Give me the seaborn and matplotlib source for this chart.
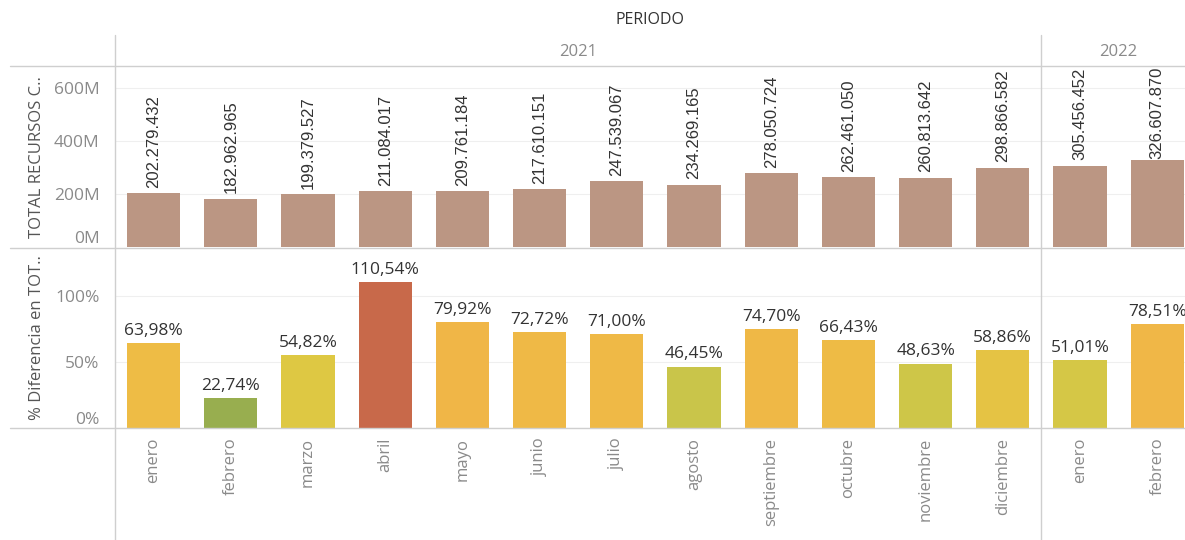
import pandas as pd
import matplotlib.pyplot as plt
import matplotlib.transforms as mtransforms
from matplotlib.colors import LinearSegmentedColormap
from matplotlib.lines import Line2D
import seaborn as sns

# ==============================
# Datos
# ==============================
anios = ["2021"] * 12 + ["2022"] * 2
meses = ["enero", "febrero", "marzo", "abril", "mayo", "junio", "julio",
         "agosto", "septiembre", "octubre", "noviembre", "diciembre",
         "enero", "febrero"]
total_recursos = [202279432, 182962965, 199379527, 211084017, 209761184,
                  217610151, 247539067, 234269165, 278050724, 262461050,
                  260813642, 298866582, 305456452, 326607870]
pct_diferencia = [63.98, 22.74, 54.82, 110.54, 79.92, 72.72, 71.00,
                  46.45, 74.70, 66.43, 48.63, 58.86, 51.01, 78.51]
ticks_total = [0, 200e6, 400e6, 600e6]
ticks_total_lbl = ["0M", "200M", "400M", "600M"]
ticks_pct = [0, 50, 100]
ticks_pct_lbl = ["0%", "50%", "100%"]

df = pd.DataFrame({"anio": anios, "mes": meses,
                   "total": total_recursos, "pct": pct_diferencia})
df["periodo"] = df["anio"] + "-" + df["mes"]

# ==============================
# Estilo
# ==============================
sns.set_theme(style="white")
plt.rcParams["font.family"] = ["Open Sans", "DejaVu Sans"]

GRIS_TXT = "#8a8a8a"
GRIS_LINEA = "#cfcfcf"
MARRON = "#bb9683"

lo, hi = min(pct_diferencia), max(pct_diferencia)
nodos = [(22.74, "#98ae4f"), (46.5, "#c9c54a"), (55.0, "#dfc843"),
         (64.0, "#eebc45"), (80.0, "#f0b647"), (110.54, "#c8694a")]
cmap = LinearSegmentedColormap.from_list(
    "dif", [((v - lo) / (hi - lo), c) for v, c in nodos])
colores_pct = [cmap((v - lo) / (hi - lo)) for v in pct_diferencia]

W, H = 1185, 540
fig = plt.figure(figsize=(W / 100, H / 100), dpi=100)

def fx(px):
    return px / W

def fy(py):
    return 1 - py / H

ax1 = fig.add_axes([fx(115), fy(247), fx(1185) - fx(115), fy(66) - fy(247)])
ax2 = fig.add_axes([fx(115), fy(428), fx(1185) - fx(115), fy(248) - fy(428)])

# ==============================
# Panel superior: total recursos
# ==============================
sns.barplot(data=df, x="periodo", y="total", color=MARRON, width=0.69,
            saturation=1, linewidth=0, ax=ax1)
ax1.set_ylim(0, 683e6)

# ==============================
# Panel inferior: % diferencia
# ==============================
sns.barplot(data=df, x="periodo", y="pct", hue="periodo",
            palette=colores_pct, width=0.69, saturation=1, linewidth=0,
            legend=False, ax=ax2)
ax2.set_ylim(0, 136)

for ax, ticks, lbls in [(ax1, ticks_total, ticks_total_lbl),
                        (ax2, ticks_pct, ticks_pct_lbl)]:
    ax.set_xlim(-0.5, 13.36)
    for s in ax.spines.values():
        s.set_visible(False)
    ax.set_yticks(ticks)
    ax.set_yticklabels(lbls, color=GRIS_TXT, fontsize=12.5)
    ax.tick_params(axis="y", length=0, pad=11)
    ax.yaxis.grid(True, color="#efefef", linewidth=0.8)
    ax.set_axisbelow(True)
    ax.set_xlabel("")
    ax.set_ylabel("")
    ax.get_yticklabels()[0].set_va("bottom")

ax1.set_xticks([])
ax2.set_xticks(range(len(meses)))
ax2.set_xticklabels(meses, rotation=90, va="top", ha="center",
                    color=GRIS_TXT, fontsize=12)
ax2.tick_params(axis="x", length=0, pad=7)

# etiquetas de valores
for i, v in enumerate(pct_diferencia):
    ax2.annotate(f"{v:.2f}%".replace(".", ","), (i, v), xytext=(0, 3),
                 textcoords="offset points", ha="center", va="bottom",
                 fontsize=12.5, color="#333333")

textos = []
for i, v in enumerate(total_recursos):
    t = ax1.annotate(f"{v:,}".replace(",", "."), (i, v), xytext=(0, 4),
                     textcoords="offset points", ha="center", va="bottom",
                     rotation=90, fontsize=12, color="#333333",
                     family=["Liberation Sans", "DejaVu Sans"])
    textos.append(t)

# los textos que salen del panel se bajan para caber
fig.canvas.draw()
top_px = ax1.get_window_extent().y1
for t in textos:
    bb = t.get_window_extent()
    if bb.y1 > top_px - 1:
        t.xyann = (0, 4 - (bb.y1 - top_px + 1) * 72 / fig.dpi)

# ==============================
# Encabezados y líneas de la tabla
# ==============================
fig.text(fx(650), fy(20), "PERIODO", ha="center", va="center",
         fontsize=11.5, color="#333333")
trans = mtransforms.blended_transform_factory(ax2.transData, fig.transFigure)
fig.text(5.5, fy(52), "2021", transform=trans, ha="center", va="center",
         fontsize=12, color=GRIS_TXT)
fig.text(12.5, fy(52), "2022", transform=trans, ha="center", va="center",
         fontsize=12, color=GRIS_TXT)

fig.text(fx(37), fy(157), "TOTAL RECURSOS C..", rotation=90,
         ha="center", va="center", fontsize=12, color="#555555")
fig.text(fx(37), fy(338), "% Diferencia en TOT..", rotation=90,
         ha="center", va="center", fontsize=12, color="#555555")

for y in [66, 248, 428]:
    fig.add_artist(Line2D([fx(10), 1], [fy(y), fy(y)], color=GRIS_LINEA,
                          linewidth=1))
fig.add_artist(Line2D([fx(115), fx(115)], [fy(35), 0], color=GRIS_LINEA,
                      linewidth=1))
fig.add_artist(Line2D([11.5, 11.5], [fy(35), 0], transform=trans,
                      color=GRIS_LINEA, linewidth=1))

plt.savefig("out.png", dpi=100)
plt.close()
